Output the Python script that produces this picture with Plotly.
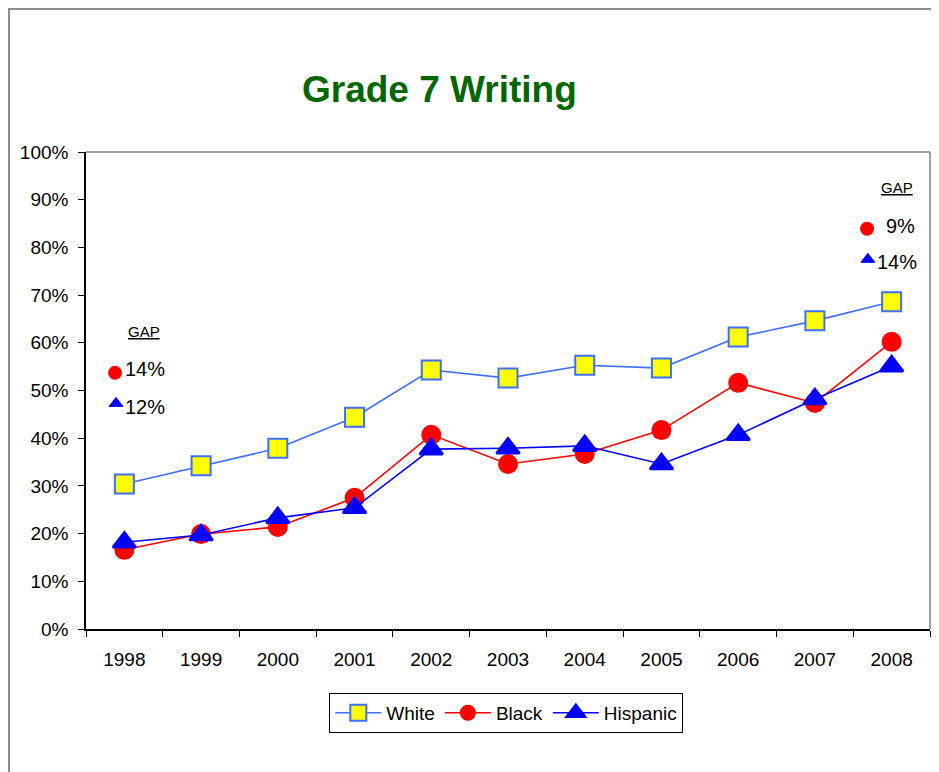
import plotly.graph_objects as go

# Data
years = ['1998', '1999', '2000', '2001', '2002', '2003', '2004', '2005', '2006', '2007', '2008']
white = [0.304, 0.342, 0.379, 0.444, 0.543, 0.526, 0.553, 0.547, 0.612, 0.646, 0.686]
black = [0.166, 0.199, 0.214, 0.275, 0.407, 0.346, 0.367, 0.417, 0.516, 0.474, 0.602]
hispanic = [0.182, 0.197, 0.233, 0.254, 0.377, 0.379, 0.384, 0.346, 0.407, 0.482, 0.551]

# Gap call-outs (left block = 1998, right block = 2008)
gap_labels = ['14%', '12%', '9%', '14%']

FONT = 'Liberation Sans, Arial, sans-serif'

# where the call-outs sit, on an overlaid linear x axis (-0.5 .. 10.5)
dot_xy = [(-0.122, 0.537), (9.68, 0.839)]
tri_xy = [(-0.109, 0.473), (9.69, 0.775)]
label_xy = [(-0.02, 0.545), (-0.02, 0.465), (9.90, 0.845), (9.785, 0.769)]
gap_head_xy = [(0.256, 0.623), (10.07, 0.925)]

fig = go.Figure()

fig.add_trace(go.Scatter(
    x=years, y=white, name='White', mode='lines+markers',
    line=dict(color='#3f6fff', width=1.6),
    marker=dict(symbol='square', size=19, color='#ffff00',
                line=dict(color='#3f6fff', width=2))
))
fig.add_trace(go.Scatter(
    x=years, y=black, name='Black', mode='lines+markers',
    line=dict(color='#ff0000', width=1.6),
    marker=dict(symbol='circle', size=20, color='#ff0000')
))
fig.add_trace(go.Scatter(
    x=years, y=hispanic, name='Hispanic', mode='lines+markers',
    line=dict(color='#0000ff', width=1.6),
    marker=dict(symbol='triangle-up', size=20, color='#0000ff',
                line=dict(color='#0000ff', width=2.5))
))

# gap markers
fig.add_trace(go.Scatter(
    x=[p[0] for p in dot_xy], y=[p[1] for p in dot_xy], xaxis='x2', mode='markers',
    marker=dict(symbol='circle', size=14, color='#ff0000'),
    showlegend=False, hoverinfo='skip'
))
fig.add_trace(go.Scatter(
    x=[p[0] for p in tri_xy], y=[p[1] for p in tri_xy], xaxis='x2', mode='markers',
    marker=dict(symbol='triangle-up', size=12, color='#0000ff',
                line=dict(color='#0000ff', width=1)),
    showlegend=False, hoverinfo='skip'
))

annotations = []
for gx, gy in gap_head_xy:
    annotations.append(dict(
        x=gx, y=gy, xref='x2', yref='y', text='<u>GAP</u>', showarrow=False,
        font=dict(family=FONT, size=15, color='#000000')
    ))
for (lx, ly), lab in zip(label_xy, gap_labels):
    annotations.append(dict(
        x=lx, y=ly, xref='x2', yref='y', text=lab, xanchor='left', showarrow=False,
        font=dict(family=FONT, size=20, color='#000000')
    ))
# title
annotations.append(dict(
    x=0.419, y=1.130, xref='paper', yref='paper', text='<b>Grade 7 Writing</b>',
    showarrow=False, xanchor='center', yanchor='middle',
    font=dict(family=FONT, size=37, color='#006600')
))

shapes = [
    # gray top and right border of plot area
    dict(type='line', xref='paper', yref='paper', x0=0, x1=1, y0=1, y1=1,
         line=dict(color='#808080', width=1.5)),
    dict(type='line', xref='paper', yref='paper', x0=1, x1=1, y0=0, y1=1,
         line=dict(color='#808080', width=1.5)),
    # outer chart border (cropped at right and bottom)
    dict(type='rect', xref='paper', yref='paper', x0=-0.0912, x1=1.05,
         y0=-0.35, y1=1.300, line=dict(color='#8c8c8c', width=2)),
]

# page body has an 8px margin, so the figure is a little smaller than the window
fig.update_layout(
    width=931, height=764,
    margin=dict(l=78, r=9, t=144, b=143),
    paper_bgcolor='white', plot_bgcolor='white',
    font=dict(family=FONT, size=19, color='#000000'),
    showlegend=True,
    legend=dict(orientation='h', x=0.498, y=-0.134, xanchor='center', yanchor='top',
                bordercolor='#000000', borderwidth=1, font=dict(size=19),
                itemwidth=46),
    xaxis=dict(type='category', showline=True, linecolor='#000000', linewidth=1.5,
               ticks='outside', ticklen=6, tickcolor='#000000', tickson='boundaries',
               showgrid=False, zeroline=False, range=[-0.5, 10.5],
               ticklabelstandoff=12),
    xaxis2=dict(overlaying='x', range=[-0.5, 10.5], visible=False, showgrid=False),
    yaxis=dict(range=[0, 1], dtick=0.1, tickformat='.0%', showline=True,
               linecolor='#000000', linewidth=1.5, ticks='outside', ticklen=6,
               tickcolor='#000000', showgrid=False, zeroline=False,
               ticklabelstandoff=6),
    annotations=annotations,
    shapes=shapes,
)

fig.write_html('out.html')
